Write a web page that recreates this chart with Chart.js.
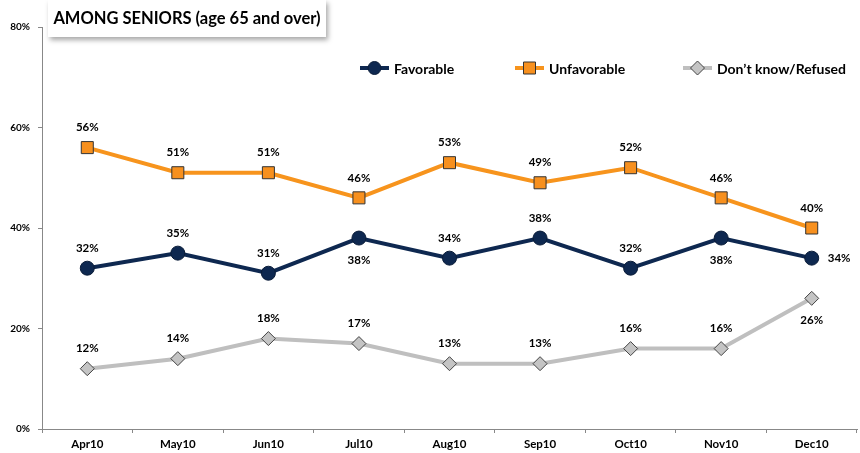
<!DOCTYPE html>
<html>
<head>
<meta charset="utf-8">
<script src="https://cdn.jsdelivr.net/npm/chart.js@4/dist/chart.umd.min.js"></script>
<style>
  html, body { margin: 0; padding: 0; background: #fff; }
  #wrap { position: relative; width: 860px; height: 453px; }
  #title {
    position: absolute; left: 48px; top: 0px; width: 278px; height: 37px;
    background: #fff; box-shadow: 2px 3px 5px rgba(0,0,0,0.35);
    font: bold 16.5px Lato, "Open Sans", sans-serif; color: #000;
    line-height: 36px; text-align: center; white-space: nowrap; z-index: 2;
  }
</style>
</head>
<body>
<div id="wrap">
  <div id="title">AMONG SENIORS (age 65 and over)</div>
  <canvas id="c" width="860" height="453"></canvas>
</div>
<script>
const months = ["Apr10", "May10", "Jun10", "Jul10", "Aug10", "Sep10", "Oct10", "Nov10", "Dec10"];
const favorable = [32, 35, 31, 38, 34, 38, 32, 38, 34];
const unfavorable = [56, 51, 51, 46, 53, 49, 52, 46, 40];
const dontKnow = [12, 14, 18, 17, 13, 13, 16, 16, 26];
// where each value label sits relative to its point
const favPos = ["top", "top", "top", "bottom", "top", "top", "top", "bottom", "right"];
const unfPos = ["top", "top", "top", "top", "top", "top", "top", "top", "top"];
const dkPos = ["top", "top", "top", "top", "top", "top", "top", "top", "bottom"];
const yTicks = [0, 20, 40, 60, 80];

const FONT = 'Lato, "Open Sans", sans-serif';

const labelPlugin = {
  id: "valueLabels",
  afterDatasetsDraw(chart) {
    const ctx = chart.ctx;
    ctx.save();
    ctx.font = "bold 11.5px " + FONT;
    ctx.fillStyle = "#000";
    chart.data.datasets.forEach((ds, i) => {
      const meta = chart.getDatasetMeta(i);
      meta.data.forEach((pt, j) => {
        const pos = ds.labelPos[j];
        let x = pt.x, y = pt.y;
        ctx.textAlign = "center";
        ctx.textBaseline = "middle";
        if (pos === "top") y -= 20;
        else if (pos === "bottom") y += 22;
        else if (pos === "right") { x += 16; ctx.textAlign = "left"; }
        ctx.fillText(ds.data[j] + "%", x, y);
      });
    });
    ctx.restore();
  }
};

const legendPlugin = {
  id: "lineLegend",
  afterDraw(chart) {
    const ctx = chart.ctx;
    const items = [
      { ds: 0, x: 360 },
      { ds: 1, x: 515 },
      { ds: 2, x: 683 }
    ];
    const y = 68;
    ctx.save();
    items.forEach(it => {
      const ds = chart.data.datasets[it.ds];
      ctx.strokeStyle = ds.borderColor;
      ctx.lineWidth = 4;
      ctx.beginPath();
      ctx.moveTo(it.x, y);
      ctx.lineTo(it.x + 29, y);
      ctx.stroke();
      const cx = it.x + 14.5;
      ctx.fillStyle = ds.pointBackgroundColor;
      ctx.strokeStyle = ds.pointBorderColor;
      ctx.lineWidth = 1;
      ctx.beginPath();
      if (ds.pointStyle === "circle") ctx.arc(cx, y, 6.5, 0, Math.PI * 2);
      else if (ds.pointStyle === "rect") ctx.rect(cx - 6, y - 6, 12, 12);
      else { ctx.moveTo(cx, y - 7); ctx.lineTo(cx + 7, y); ctx.lineTo(cx, y + 7); ctx.lineTo(cx - 7, y); ctx.closePath(); }
      ctx.fill();
      ctx.stroke();
      ctx.fillStyle = "#000";
      ctx.font = "bold 14px " + FONT;
      ctx.textAlign = "left";
      ctx.textBaseline = "middle";
      ctx.fillText(ds.label, it.x + 34, y + 1);
    });
    ctx.restore();
  }
};

new Chart(document.getElementById("c"), {
  type: "line",
  data: {
    labels: months,
    datasets: [
      {
        label: "Favorable",
        data: favorable,
        labelPos: favPos,
        borderColor: "#0E2850",
        borderWidth: 4,
        pointStyle: "circle",
        pointRadius: 7,
        pointHoverRadius: 7,
        pointBackgroundColor: "#0E2850",
        pointBorderColor: "#0A1C38",
        pointBorderWidth: 1,
        tension: 0
      },
      {
        label: "Unfavorable",
        data: unfavorable,
        labelPos: unfPos,
        borderColor: "#F7941D",
        borderWidth: 4,
        pointStyle: "rect",
        pointRadius: 8.5,
        pointHoverRadius: 8.5,
        pointBackgroundColor: "#F7901E",
        pointBorderColor: "#333",
        pointBorderWidth: 1,
        tension: 0
      },
      {
        label: "Don\u2019t know/Refused",
        data: dontKnow,
        labelPos: dkPos,
        borderColor: "#BFBFBF",
        borderWidth: 4,
        pointStyle: "rectRot",
        pointRadius: 7,
        pointHoverRadius: 7,
        pointBackgroundColor: "#C4C4C4",
        pointBorderColor: "#444",
        pointBorderWidth: 1,
        tension: 0
      }
    ]
  },
  options: {
    responsive: false,
    animation: false,
    layout: { autoPadding: false, padding: { top: 27, right: 3, left: 0, bottom: 0 } },
    plugins: {
      legend: { display: false },
      tooltip: { enabled: false }
    },
    scales: {
      x: {
        offset: true,
        grid: { display: true, drawOnChartArea: false, offset: true, tickLength: 4, color: "#888" },
        border: { color: "#888", width: 1 },
        ticks: { color: "#000", font: { family: FONT, weight: "bold", size: 11.5 }, padding: 4 },
        afterFit(scale) { scale.height = 24; }
      },
      y: {
        min: 0,
        max: 80,
        afterBuildTicks(scale) { scale.ticks = yTicks.map(v => ({ value: v })); },
        grid: { display: true, drawOnChartArea: false, tickLength: 4, color: "#888" },
        border: { color: "#888", width: 1 },
        ticks: {
          color: "#000",
          font: { family: FONT, weight: "bold", size: 10 },
          padding: 8,
          callback: v => v + "%"
        },
        afterFit(scale) { scale.width = 42; }
      }
    }
  },
  plugins: [labelPlugin, legendPlugin]
});
</script>
</body>
</html>
